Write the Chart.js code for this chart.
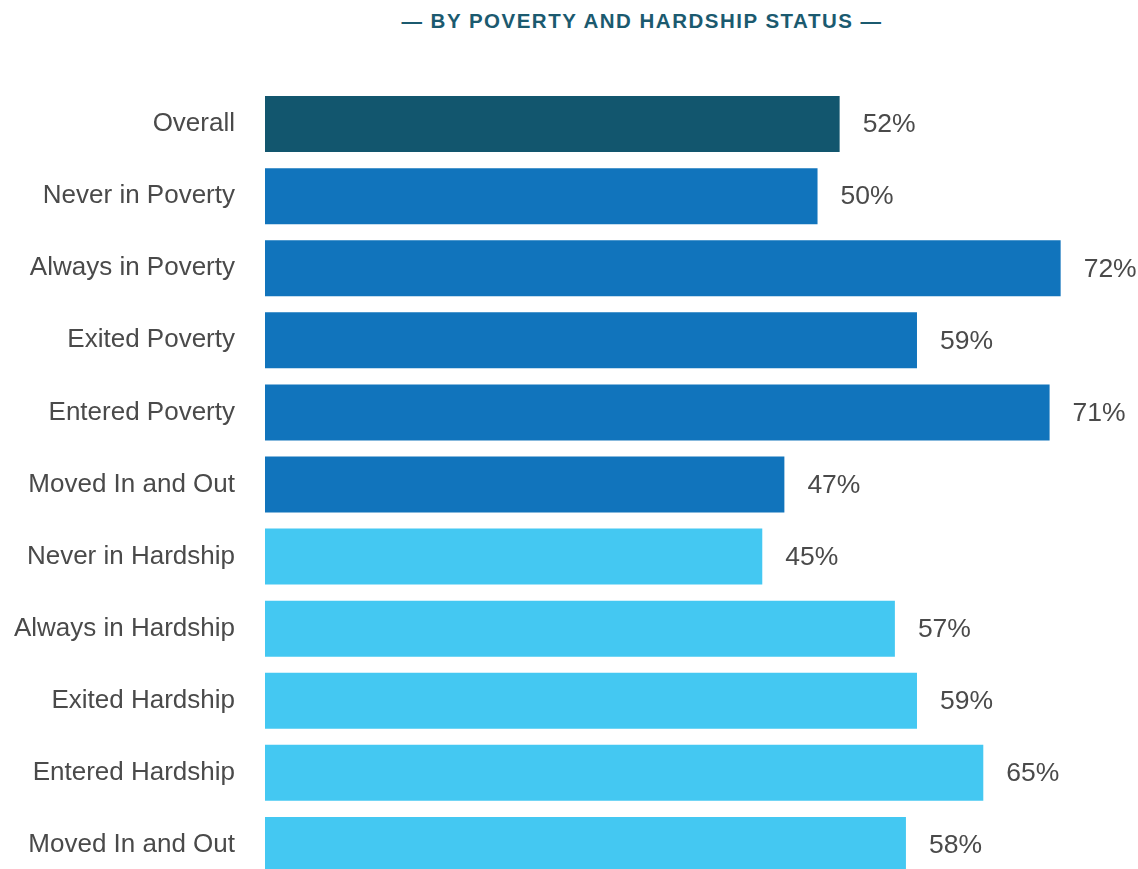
<!DOCTYPE html>
<html>
<head>
<meta charset="utf-8">
<script src="https://cdn.jsdelivr.net/npm/chart.js@4"></script>
<style>
    html, body { margin: 0; padding: 0; background: #fff; overflow: hidden; }
    #wrap { position: relative; width: 1138px; height: 869px; }
    #title {
        position: absolute; top: 9px; left: 0; width: 1284px; text-align: center;
        font-family: "Liberation Sans", Arial, sans-serif; font-weight: bold;
        font-size: 20.5px; letter-spacing: 1.5px; color: #1b5a6f;
    }
    canvas { position: absolute; top: 0; left: 0; }
</style>
</head>
<body>
<div id="wrap">
    <div id="title">— BY POVERTY AND HARDSHIP STATUS —</div>
    <canvas id="chart" width="1138" height="882"></canvas>
</div>
<script>
"use strict";

// Categories and values
const categories = [
    'Overall',
    'Never in Poverty', 'Always in Poverty', 'Exited Poverty', 'Entered Poverty', 'Moved In and Out',
    'Never in Hardship', 'Always in Hardship', 'Exited Hardship', 'Entered Hardship', 'Moved In and Out'
];
const values = [52, 50, 72, 59, 71, 47, 45, 57, 59, 65, 58];
const groups = ['overall', 'poverty', 'poverty', 'poverty', 'poverty', 'poverty',
                'hardship', 'hardship', 'hardship', 'hardship', 'hardship'];

const GROUP_COLOR = {
    overall: '#12566e',
    poverty: '#1174bc',
    hardship: '#44c8f2'
};

const FONT = '"Liberation Sans", Arial, sans-serif';
const TEXT_COLOR = '#4a4a4a';

// Value labels at the end of each bar
const valueLabels = {
    id: 'valueLabels',
    afterDatasetsDraw: chart => {
        const ctx = chart.ctx;
        const meta = chart.getDatasetMeta(0);
        ctx.save();
        ctx.font = `26.5px ${ FONT }`;
        ctx.fillStyle = TEXT_COLOR;
        ctx.textAlign = 'left';
        ctx.textBaseline = 'middle';
        meta.data.forEach((bar, i) => {
            ctx.fillText(values[i] + '%', bar.x + 23, bar.y + 1);
        });
        ctx.restore();
    }
};

const chart = new Chart(document.getElementById('chart').getContext('2d'), {
    type: 'bar',
    data: {
        labels: categories,
        datasets: [{
            data: values,
            backgroundColor: groups.map(g => GROUP_COLOR[g]),
            borderWidth: 0,
            barPercentage: 0.777,
            categoryPercentage: 1
        }]
    },
    options: {
        indexAxis: 'y',
        responsive: false,
        animation: false,
        layout: { padding: { top: 88, bottom: 1, left: 0, right: 0 } },
        plugins: {
            legend: { display: false },
            tooltip: { enabled: false }
        },
        scales: {
            x: {
                display: false,
                min: 0,
                max: 79
            },
            y: {
                grid: { display: false, drawTicks: false },
                border: { display: false },
                ticks: {
                    padding: 30,
                    color: TEXT_COLOR,
                    font: { family: FONT, size: 26 }
                },
                afterFit: scale => {
                    scale.width = 265;
                    // don't let the label padding shrink the plot area
                    scale.paddingTop = 0;
                    scale.paddingBottom = 0;
                }
            }
        }
    },
    plugins: [valueLabels]
});
</script>
</body>
</html>
